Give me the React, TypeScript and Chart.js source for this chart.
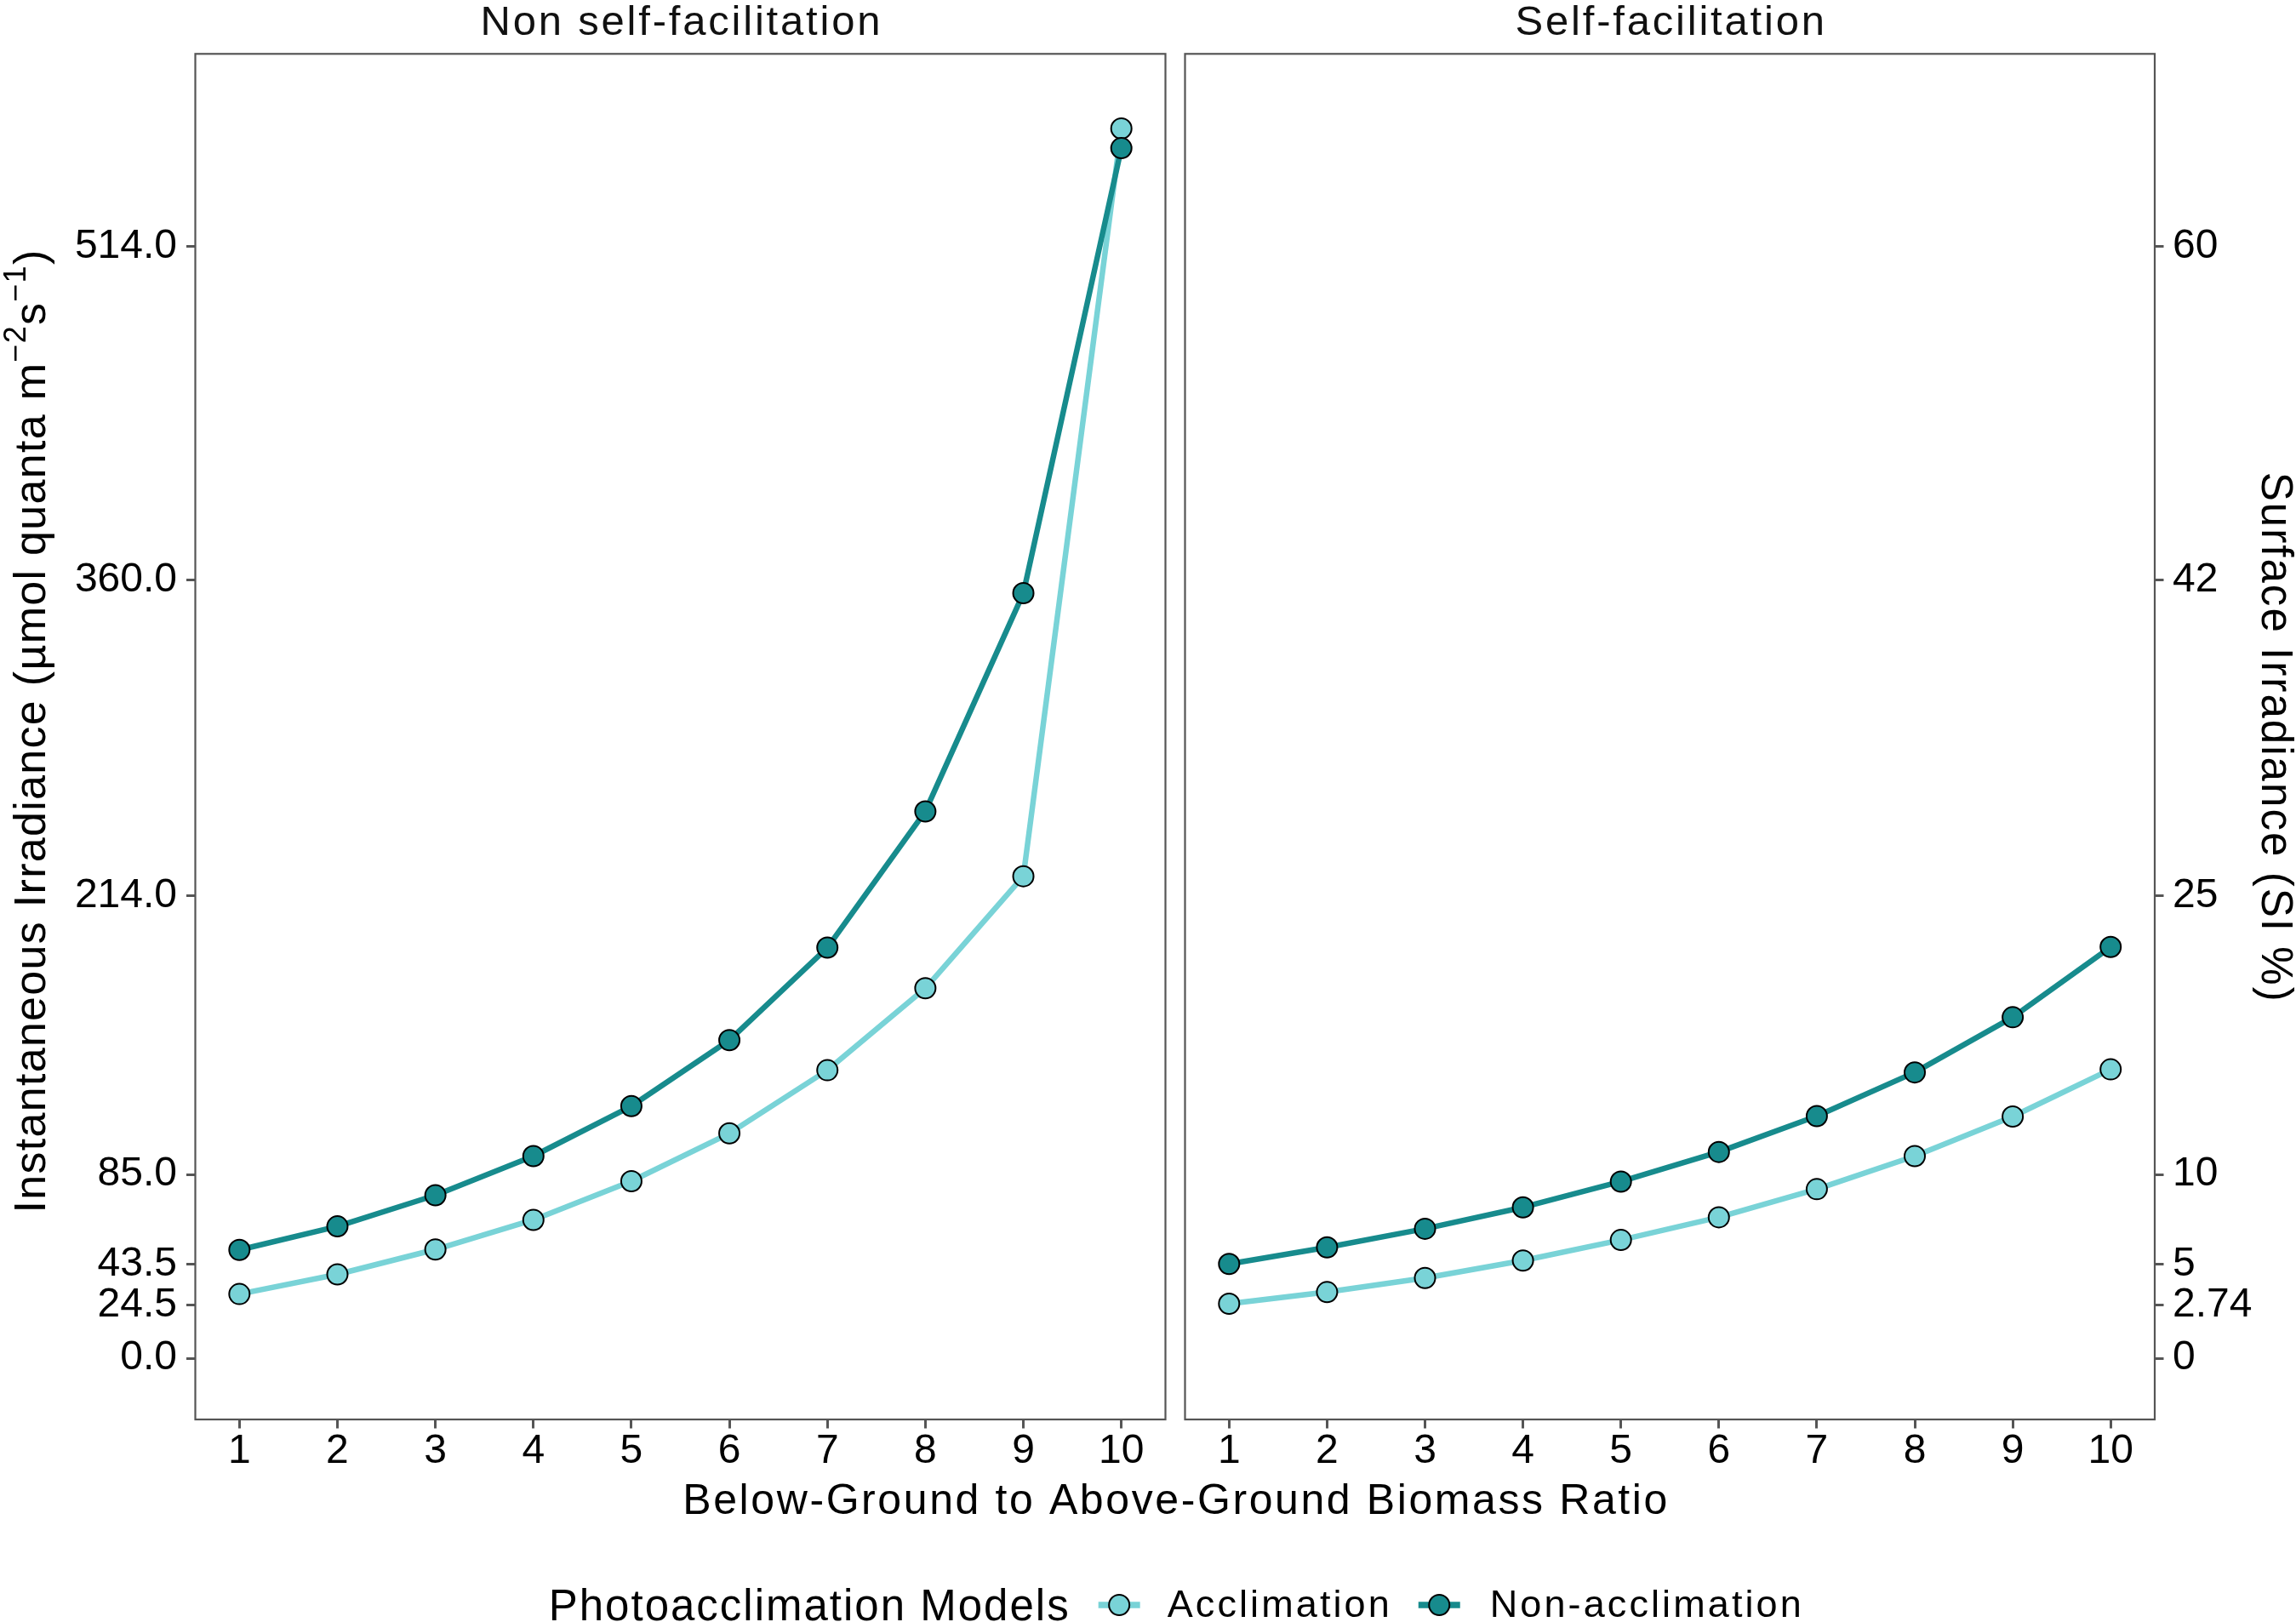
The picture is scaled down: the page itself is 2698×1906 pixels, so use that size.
import React, { useEffect, useRef } from 'react';
import { Chart, registerables } from 'chart.js';

Chart.register(...registerables);

// ---------------- data ----------------
const ratioCategories = [1, 2, 3, 4, 5, 6, 7, 8, 9, 10];

// Non self-facilitation panel (µmol quanta m^-2 s^-1)
const nonSelfAcclimation = [29.7, 38.8, 50.3, 64.0, 81.9, 104.0, 133.2, 171.1, 222.9, 568.7];
const nonSelfNonAcclimation = [50.1, 61.0, 75.4, 93.5, 116.6, 147.1, 189.9, 252.9, 353.8, 559.6];

// Self-facilitation panel
const selfAcclimation = [25.2, 30.6, 37.1, 45.2, 54.7, 65.2, 78.2, 93.5, 111.8, 133.6];
const selfNonAcclimation = [43.6, 51.3, 59.9, 69.8, 81.7, 95.4, 112.0, 132.2, 157.7, 190.2];

const irradianceTickValues = [0, 24.5, 43.5, 85, 214, 360, 514];
const irradianceTickLabels = ['0.0', '24.5', '43.5', '85.0', '214.0', '360.0', '514.0'];
const surfaceTickLabels = ['0', '2.74', '5', '10', '25', '42', '60'];

const panelTitles = ['Non self-facilitation', 'Self-facilitation'];
const seriesNames = ['Acclimation', 'Non-acclimation'];
const legendTitle = 'Photoacclimation Models';
const xAxisTitle = 'Below-Ground to Above-Ground Biomass Ratio';
const yAxisTitleMain = 'Instantaneous Irradiance (µmol quanta m';
const yAxisTitleSup1 = '−2';
const yAxisTitleMid = 's';
const yAxisTitleSup2 = '−1';
const yAxisTitleEnd = ')';
const y2AxisTitle = 'Surface Irradiance (SI %)';

// ---------------- style ----------------
const FONT = "'Liberation Sans', Arial, Helvetica, sans-serif";
const ACCL_COLOR = '#79D3D7';
const NON_COLOR = '#178B8D';
const FRAME_COLOR = '#555555';
const W = 2698;
const H = 1906;

function setFont(ctx: CanvasRenderingContext2D, size: number, spacing: number) {
  ctx.font = `${size}px ${FONT}`;
  (ctx as any).letterSpacing = `${spacing}px`;
}
function measure(ctx: CanvasRenderingContext2D, text: string, size: number, spacing: number) {
  setFont(ctx, size, spacing);
  return ctx.measureText(text).width - spacing;
}
function drawText(
  ctx: CanvasRenderingContext2D,
  text: string,
  x: number,
  y: number,
  size: number,
  spacing: number,
  align: 'left' | 'center' = 'left'
) {
  const w = measure(ctx, text, size, spacing);
  setFont(ctx, size, spacing);
  ctx.textAlign = 'left';
  ctx.textBaseline = 'alphabetic';
  ctx.fillText(text, align === 'center' ? x - w / 2 : x, y);
  return w;
}

const decorPlugin = {
  id: 'facetDecor',
  afterDraw(chart: any) {
    const ctx: CanvasRenderingContext2D = chart.ctx;
    const { top, bottom, left, right } = chart.chartArea;
    const panels = [chart.scales.x, chart.scales.x2];
    ctx.save();

    // panel frames and strip titles
    ctx.strokeStyle = FRAME_COLOR;
    ctx.lineWidth = 2.2;
    panels.forEach((s: any, i: number) => {
      ctx.strokeRect(s.left, top, s.right - s.left, bottom - top);
      ctx.fillStyle = '#111111';
      drawText(ctx, panelTitles[i], (s.left + s.right) / 2, 40.7, 49, 2.8, 'center');
    });

    ctx.fillStyle = '#000000';
    // x axis title
    drawText(ctx, xAxisTitle, (left + right) / 2, 1778.5, 50, 2.6, 'center');

    // left y title with superscripts
    const cy = (top + bottom) / 2 - 6;
    const pieces = [
      { t: yAxisTitleMain, s: 52, dy: 0 },
      { t: yAxisTitleSup1, s: 36, dy: -23 },
      { t: yAxisTitleMid, s: 52, dy: 0 },
      { t: yAxisTitleSup2, s: 36, dy: -23 },
      { t: yAxisTitleEnd, s: 52, dy: 0 },
    ];
    const sp = 1.3;
    const widths = pieces.map((p) => measure(ctx, p.t, p.s, sp) + sp);
    const total = widths.reduce((a, b) => a + b, 0) - sp;
    ctx.save();
    ctx.translate(53, cy);
    ctx.rotate(-Math.PI / 2);
    let px = -total / 2;
    pieces.forEach((p, i) => {
      drawText(ctx, p.t, px, p.dy, p.s, sp, 'left');
      px += widths[i];
    });
    ctx.restore();

    // right y title
    ctx.save();
    ctx.translate(2657.5, (top + bottom) / 2);
    ctx.rotate(Math.PI / 2);
    drawText(ctx, y2AxisTitle, 0, 0, 51, 2.06, 'center');
    ctx.restore();

    // legend
    const legendY = 1886;
    const titleW = measure(ctx, legendTitle, 51, 2);
    const itemW = seriesNames.map((n) => measure(ctx, n, 45, 3.1));
    const keyW = 49;
    const totalW = titleW + 35 + keyW + 32 + itemW[0] + 34 + keyW + 35 + itemW[1];
    let lx = (left + right) / 2 - totalW / 2;
    ctx.fillStyle = '#000000';
    drawText(ctx, legendTitle, lx, 1903.5, 51, 2);
    lx += titleW + 35;
    const colors = [ACCL_COLOR, NON_COLOR];
    const textGaps = [32, 35];
    seriesNames.forEach((name, i) => {
      ctx.strokeStyle = colors[i];
      ctx.lineWidth = 7.5;
      ctx.lineCap = 'butt';
      ctx.beginPath();
      ctx.moveTo(lx, legendY);
      ctx.lineTo(lx + keyW, legendY);
      ctx.stroke();
      ctx.beginPath();
      ctx.arc(lx + keyW / 2, legendY, 12, 0, Math.PI * 2);
      ctx.fillStyle = colors[i];
      ctx.fill();
      ctx.strokeStyle = '#000000';
      ctx.lineWidth = 2;
      ctx.stroke();
      lx += keyW + textGaps[i];
      ctx.fillStyle = '#000000';
      drawText(ctx, name, lx, 1900, 45, 3.1);
      lx += itemW[i] + 34;
    });

    ctx.restore();
  },
};

function makeSeries(values: number[], color: string, xAxisID: string, label: string) {
  return {
    label,
    data: ratioCategories.map((x, i) => ({ x, y: values[i] })),
    xAxisID,
    yAxisID: 'y',
    borderColor: color,
    backgroundColor: color,
    borderWidth: 6.5,
    tension: 0,
    fill: false,
    pointRadius: 12,
    pointHoverRadius: 12,
    pointBackgroundColor: color,
    pointBorderColor: '#000000',
    pointBorderWidth: 2,
    borderJoinStyle: 'round' as const,
  };
}

const tickFont = { family: FONT, size: 48, lineHeight: 1.1 };
const tickGrid = {
  display: true,
  drawOnChartArea: false,
  drawTicks: true,
  tickLength: 10.5,
  color: FRAME_COLOR,
  lineWidth: 3,
};

function xScale(weight: number, stackWeight: number) {
  return {
    type: 'linear' as const,
    position: 'bottom' as const,
    stack: 'panels',
    stackWeight,
    weight,
    min: 0.55,
    max: 10.45,
    afterBuildTicks: (s: any) => {
      s.ticks = ratioCategories.map((v) => ({ value: v }));
    },
    afterFit: (s: any) => {
      s.height = 60;
    },
    ticks: {
      autoSkip: false,
      maxRotation: 0,
      minRotation: 0,
      font: tickFont,
      color: '#000000',
      padding: 0.5,
      callback: (_v: any, i: number) => String(ratioCategories[i]),
    },
    grid: tickGrid,
    border: { display: false },
  };
}

export default function App() {
  const ref = useRef<HTMLCanvasElement>(null);

  useEffect(() => {
    const canvas = ref.current;
    if (!canvas) return;
    const chart = new Chart(canvas, {
      type: 'line',
      data: {
        datasets: [
          makeSeries(nonSelfNonAcclimation, NON_COLOR, 'x', seriesNames[1]),
          makeSeries(nonSelfAcclimation, ACCL_COLOR, 'x', seriesNames[0]),
          makeSeries(selfNonAcclimation, NON_COLOR, 'x2', seriesNames[1]),
          makeSeries(selfAcclimation, ACCL_COLOR, 'x2', seriesNames[0]),
        ],
      },
      options: {
        animation: false,
        responsive: false,
        events: [],
        layout: { padding: { left: 0, right: 0, top: 63.3, bottom: 178 } },
        plugins: {
          legend: { display: false },
          title: { display: false },
          tooltip: { enabled: false },
        },
        scales: {
          x: xScale(0, 1140),
          xGap: {
            type: 'linear',
            position: 'bottom',
            stack: 'panels',
            stackWeight: 23,
            weight: 1,
            min: 0,
            max: 1,
            ticks: { display: false },
            grid: { display: false },
            border: { display: false },
          },
          x2: xScale(2, 1139.5),
          y: {
            type: 'linear',
            position: 'left',
            min: -28.3,
            max: 603.2,
            afterBuildTicks: (s: any) => {
              s.ticks = irradianceTickValues.map((v) => ({ value: v }));
            },
            afterFit: (s: any) => {
              s.width = 229.5;
            },
            ticks: {
              font: tickFont,
              color: '#000000',
              padding: 11,
              callback: (_v: any, i: number) => irradianceTickLabels[i],
            },
            grid: tickGrid,
            border: { display: false },
          },
          y2: {
            type: 'linear',
            position: 'right',
            min: -28.3,
            max: 603.2,
            afterBuildTicks: (s: any) => {
              s.ticks = irradianceTickValues.map((v) => ({ value: v }));
            },
            afterFit: (s: any) => {
              s.width = 166;
            },
            ticks: {
              font: tickFont,
              color: '#000000',
              padding: 10.5,
              callback: (_v: any, i: number) => surfaceTickLabels[i],
            },
            grid: tickGrid,
            border: { display: false },
          },
        },
      } as any,
      plugins: [decorPlugin],
    });
    return () => chart.destroy();
  }, []);

  return (
    <div style={{ position: 'absolute', left: 0, top: 0, width: W, height: H, background: '#ffffff' }}>
      <canvas ref={ref} width={W} height={H} style={{ width: W, height: H, display: 'block' }} />
    </div>
  );
}
